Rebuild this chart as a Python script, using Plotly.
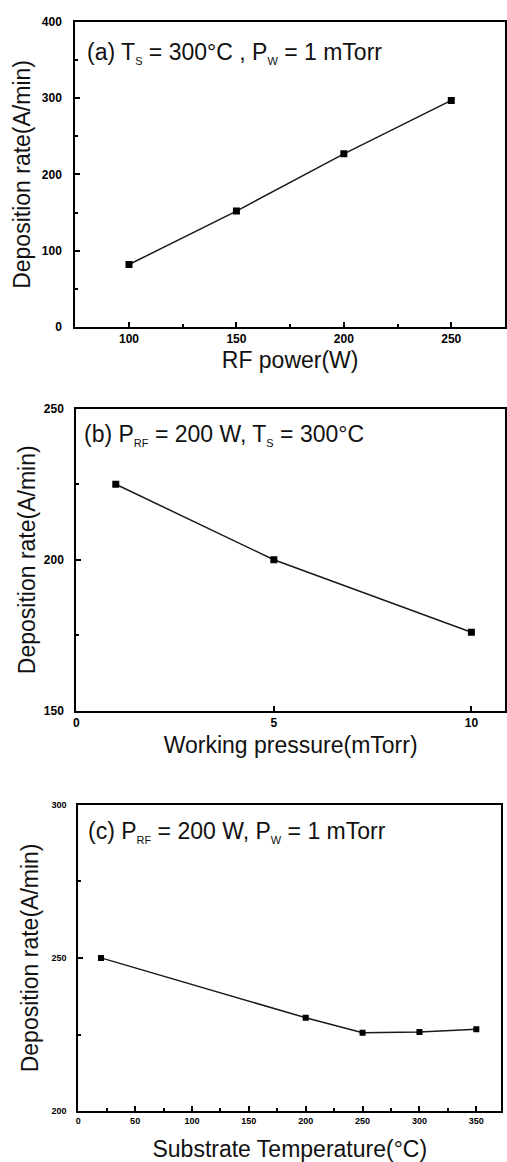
import plotly.graph_objects as go

# Panel (a): deposition rate vs RF power
rf_power = [100, 150, 200, 250]
rate_a = [82, 152, 227, 297]

# Panel (b): deposition rate vs working pressure
pressure = [1, 5, 10]
rate_b = [225, 200, 176]

# Panel (c): deposition rate vs substrate temperature
temperature = [20, 200, 250, 300, 350]
rate_c = [250, 230.5, 225.6, 225.8, 226.7]

FONT = "Arial, Liberation Sans, sans-serif"
W, H = 507, 1162

fig = go.Figure()

line_style = dict(color="#1a1a1a", width=1.5)
marker_style = dict(symbol="square", size=7, color="black")

fig.add_trace(go.Scatter(x=rf_power, y=rate_a, mode="lines+markers",
                         line=line_style, marker=marker_style, xaxis="x", yaxis="y"))
fig.add_trace(go.Scatter(x=pressure, y=rate_b, mode="lines+markers",
                         line=line_style, marker=marker_style, xaxis="x2", yaxis="y2"))
fig.add_trace(go.Scatter(x=temperature, y=rate_c, mode="lines+markers",
                         line=line_style, marker=dict(marker_style, size=6), xaxis="x3", yaxis="y3"))


def py(p):
    return 1 - p / H


def px(p):
    return p / W


def axis_common(size):
    return dict(showline=True, linecolor="black", linewidth=2, mirror=True,
                ticks="inside", ticklen=5, tickwidth=1.5, tickcolor="black",
                showgrid=False, zeroline=False,
                tickfont=dict(family=FONT, size=size, color="black", weight="bold"),
                title_font=dict(family=FONT, size=23, color="#111"))


layout = dict(
    width=W, height=H, margin=dict(l=0, r=0, t=0, b=0),
    paper_bgcolor="white", plot_bgcolor="white", showlegend=False,
)

# (a)
layout["xaxis"] = dict(axis_common(12), domain=[px(73), 1.0], anchor="y",
                       range=[75, 275], tickvals=[100, 150, 200, 250],
                       minor=dict(tickvals=[125, 175, 225], ticks="inside", ticklen=3, tickcolor="black"),
                       title=dict(text="RF power(W)", standoff=6))
layout["yaxis"] = dict(axis_common(12), domain=[py(324), py(15)], anchor="x",
                       range=[0, 400], tickvals=[0, 100, 200, 300, 400], ticklabelstandoff=9,
                       minor=dict(tickvals=[50, 150, 250, 350], ticks="inside", ticklen=3, tickcolor="black"),
                       title=dict(text="Deposition rate(A/min)", standoff=5))
# (b)
layout["xaxis2"] = dict(axis_common(12), domain=[px(74), 1.0], anchor="y2",
                        range=[0, 10.85], tickvals=[0, 5, 10],
                        title=dict(text="Working pressure(mTorr)", standoff=8))
layout["yaxis2"] = dict(axis_common(12), domain=[py(712.3), py(406.7)], anchor="x2",
                        range=[150, 250], tickvals=[150, 200, 250], ticklabelstandoff=8,
                        minor=dict(tickvals=[175, 225], ticks="inside", ticklen=3, tickcolor="black"),
                        title=dict(text="Deposition rate(A/min)", standoff=2))
# (c)
layout["xaxis3"] = dict(axis_common(9), domain=[px(76), px(503.3)], anchor="y3",
                        range=[0, 372], tickvals=[0, 50, 100, 150, 200, 250, 300, 350],
                        minor=dict(tickvals=[25, 75, 125, 175, 225, 275, 325], ticks="inside", ticklen=3, tickcolor="black"),
                        title=dict(text="Substrate Temperature(°C)", standoff=16))
layout["yaxis3"] = dict(axis_common(9), domain=[py(1117.7), py(807.3)], anchor="x3",
                        range=[200, 300], tickvals=[200, 250, 300], ticklabelstandoff=8,
                        minor=dict(tickvals=[225, 275], ticks="inside", ticklen=3, tickcolor="black"),
                        title=dict(text="Deposition rate(A/min)", standoff=6))

ann_font = dict(family=FONT, size=23, color="#111")


def sub(s):
    return "<sub><span style='font-size:11px'>" + s + "</span></sub>"


layout["annotations"] = [
    dict(text="(a) T" + sub("S") + " = 300°C , P" + sub("W") + " = 1 mTorr", xref="paper", yref="paper",
         x=px(83), y=py(47), xanchor="left", yanchor="middle", showarrow=False, font=ann_font),
    dict(text="(b) P" + sub("RF") + " = 200 W, T" + sub("S") + " = 300°C", xref="paper", yref="paper",
         x=px(80), y=py(433), xanchor="left", yanchor="middle", showarrow=False, font=ann_font),
    dict(text="(c) P" + sub("RF") + " = 200 W, P" + sub("W") + " = 1 mTorr", xref="paper", yref="paper",
         x=px(84), y=py(835), xanchor="left", yanchor="middle", showarrow=False, font=ann_font),
]

fig.update_layout(**layout)
fig.write_html("out.html")
